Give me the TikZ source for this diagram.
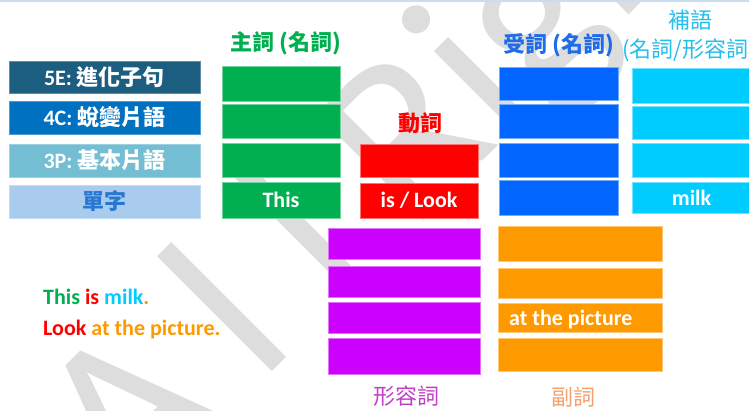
\documentclass[tikz,border=0pt]{standalone}
\usepackage{fontspec}
\setmainfont{Carlito}
\newfontfamily\cjk{Noto Sans CJK TC}
\definecolor{cFive}{RGB}{28,94,128}
\definecolor{cFour}{RGB}{0,112,192}
\definecolor{cThree}{RGB}{116,190,211}
\definecolor{cOne}{RGB}{169,204,238}
\definecolor{cOneText}{RGB}{40,120,210}
\definecolor{cSubj}{RGB}{0,176,80}
\definecolor{cVerb}{RGB}{255,0,0}
\definecolor{cObj}{RGB}{0,102,255}
\definecolor{cObjText}{RGB}{30,108,232}
\definecolor{cComp}{RGB}{0,204,255}
\definecolor{cCompText}{RGB}{34,190,238}
\definecolor{cAdj}{RGB}{204,0,255}
\definecolor{cAdjText}{RGB}{192,64,200}
\definecolor{cAdv}{RGB}{255,153,0}
\definecolor{cAdvText}{RGB}{246,160,110}
\definecolor{cWater}{RGB}{221,221,221}
\definecolor{cTop}{RGB}{200,222,240}
\newcommand\myfs{\fontsize{22}{26}\selectfont}
\tikzset{
  cell/.style={inner sep=0pt, outer sep=0pt, anchor=north west, text=white,
    font=\myfs\bfseries, line width=0.8pt},
  lab/.style={cell, minimum width=191pt},
  subj/.style={cell, fill=cSubj, draw=cSubj!55!white, minimum width=118pt},
  verb/.style={cell, fill=cVerb, draw=cVerb!55!white, minimum width=118pt},
  obj/.style={cell, fill=cObj, draw=cObj!55!white, minimum width=119pt},
  comp/.style={cell, fill=cComp, draw=cComp!55!white, minimum width=119pt},
  adj/.style={cell, fill=cAdj, draw=cAdj!55!white, minimum width=152pt},
  adv/.style={cell, fill=cAdv, draw=cAdv!55!white, minimum width=164pt},
  head/.style={inner sep=0pt, font=\myfs\cjk\bfseries},
  headlight/.style={inner sep=0pt, font=\myfs\cjk},
  sent/.style={inner sep=0pt, anchor=west, font=\myfs\bfseries},
  wm/.style={inner sep=0pt, text=cWater, font=\fontsize{234}{234}\selectfont},
}
\begin{document}
\begin{tikzpicture}[x=1pt,y=-1pt]
\useasboundingbox (0,0) rectangle (749,410);
\fill[white] (0,0) rectangle (749,410);
% watermark
\node[wm, anchor=base west, rotate=45] (wmark) at (131,513) {A\kern47pt l\kern57pt l\kern50pt Rights};
\draw[cTop, line width=1.5pt] (0,0.8) coordinate (tl) -- (749,0.8) coordinate (tr);
% level labels
\node[lab, fill=cFive, draw=cFive!70!white, minimum height=32pt] (l5) at (9,61) {5E: {\cjk 進化子句}};
\node[lab, fill=cFour, draw=cFour!70!white, minimum height=33pt] (l4) at (9,101) {4C: {\cjk 蛻變片語}};
\node[lab, fill=cThree, draw=cThree!70!white, minimum height=33pt] (l3) at (9,144) {3P: {\cjk 基本片語}};
\node[lab, fill=cOne, draw=cOne!70!white, minimum height=33pt, text=cOneText] (l1) at (9,185) {\cjk 單字};
% subject
\node[head, text=cSubj] (hs) at (286,43) {主詞 (名詞)};
\node[subj, minimum height=35pt] (s1) at (222,66) {};
\node[subj, minimum height=34pt] (s2) at (222,104) {};
\node[subj, minimum height=34pt] (s3) at (222,143) {};
\node[subj, minimum height=36pt] (s4) at (222,182) {This};
% verb
\node[head, text=cVerb] (hv) at (420,123) {動詞};
\node[verb, minimum height=33pt] (v1) at (360,144) {};
\node[verb, minimum height=35pt] (v2) at (360,183) {is / Look};
% object
\node[head, text=cObjText] (ho) at (559,45) {受詞 (名詞)};
\node[obj, minimum height=33pt] (o1) at (499,67) {};
\node[obj, minimum height=34pt] (o2) at (499,104) {};
\node[obj, minimum height=34pt] (o3) at (499,143) {};
\node[obj, minimum height=35pt] (o4) at (499,180) {};
% complement
\node[headlight, text=cCompText] (hc1) at (690,20) {補語};
\node[headlight, text=cCompText] (hc2) at (689,50) {(名詞/形容詞)};
\node[comp, minimum height=35pt] (c1) at (632,68) {};
\node[comp, minimum height=33pt] (c2) at (632,106) {};
\node[comp, minimum height=34pt] (c3) at (632,143) {};
\node[comp, minimum height=31pt] (c4) at (632,182) {milk};
% adjective
\node[adj, minimum height=31pt] (a1) at (328,228) {};
\node[adj, minimum height=31pt] (a2) at (328,266) {};
\node[adj, minimum height=31pt] (a3) at (328,302) {};
\node[adj, minimum height=36pt] (a4) at (328,338) {};
\node[headlight, text=cAdjText] (ha) at (406,396) {形容詞};
% adverb
\node[adv, minimum height=35pt] (d1) at (498,226) {};
\node[adv, minimum height=30pt] (d2) at (498,268) {};
\node[adv, minimum height=29pt] (d3) at (498,303) {};
\node[adv, minimum height=33pt] (d4) at (498,338) {};
\node[sent, text=white] (dt) at (509,320) {at the picture};
\node[headlight, text=cAdvText] (hd) at (573,397) {副詞};
% example sentences
\node[sent] (ex1) at (43,297) {\textcolor{cSubj}{This} \textcolor{cVerb}{is} \textcolor{cComp}{milk}\textcolor{cAdv}{.}};
\node[sent] (ex2) at (43,330) {\textcolor{cVerb}{Look} \textcolor{cAdv}{at the picture.}};
\end{tikzpicture}
\end{document}
